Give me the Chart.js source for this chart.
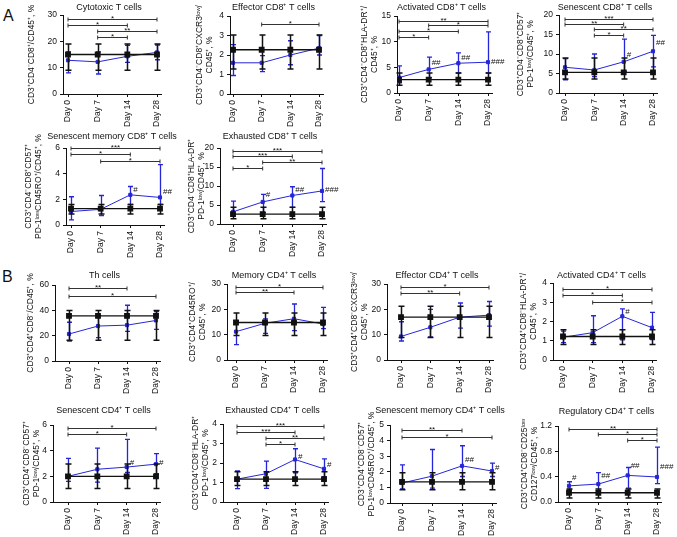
<!DOCTYPE html>
<html>
<head>
<meta charset="utf-8">
<script src="https://cdn.jsdelivr.net/npm/chart.js@4.4.1/dist/chart.umd.min.js"></script>
<style>
  body { margin: 0; background: #fff; width: 677px; height: 537px; position: relative; overflow: hidden; font-family: 'Liberation Sans', Arial, sans-serif; }
  canvas { position: absolute; }
  .letter { position: absolute; font-size: 16px; color: #111; }
</style>
</head>
<body>
<div class="letter" style="left:3px;top:7px">A</div>
<div class="letter" style="left:2px;top:268px">B</div>
<script>
const days = ["Day 0", "Day 7", "Day 14", "Day 28"];

const panelTitles = [
  "Cytotoxic T cells", "Effector CD8⁺ T cells", "Activated CD8⁺ T cells", "Senescent CD8⁺ T cells",
  "Senescent memory CD8⁺ T cells", "Exhausted CD8⁺ T cells",
  "Th cells", "Memory CD4⁺ T cells", "Effector CD4⁺ T cells", "Activated CD4⁺ T cells",
  "Senescent CD4⁺ T cells", "Exhausted CD4⁺ T cells", "Senescent memory CD4⁺ T cells", "Regulatory CD4⁺ T cells"
];

const yTitles = [
  ["CD3⁺CD4⁻CD8⁺/CD45⁺, %"],
  ["CD3⁺CD4⁻CD8⁺CXCR3ˡᵒʷ/", "CD45⁺, %"],
  ["CD3⁺CD4⁻CD8⁺HLA-DR⁺/", "CD45⁺, %"],
  ["CD3⁺CD4⁻CD8⁺CD57⁺", "PD-1ˡᵒʷ/CD45⁺, %"],
  ["CD3⁺CD4⁻CD8⁺CD57⁺", "PD-1ˡᵒʷCD45RO⁺/CD45⁺, %"],
  ["CD3⁺CD4⁻CD8⁺HLA-DR⁺", "PD-1ˡᵒʷ/CD45⁺, %"],
  ["CD3⁺CD4⁺CD8⁻/CD45⁺, %"],
  ["CD3⁺CD4⁺CD45RO⁺/", "CD45⁺, %"],
  ["CD3⁺CD4⁺CD8⁻CXCR3ˡᵒʷ/", "CD45⁺, %"],
  ["CD3⁺CD4⁺CD8⁻HLA-DR⁺/", "CD45⁺, %"],
  ["CD3⁺CD4⁺CD8⁻CD57⁺", "PD-1ˡᵒʷ/CD45⁺, %"],
  ["CD3⁺CD4⁺CD8⁻HLA-DR⁺", "PD-1ˡᵒʷ/CD45⁺, %"],
  ["CD3⁺CD4⁺CD8⁻CD57⁺", "PD-1ˡᵒʷCD45RO⁺/CD45⁺, %"],
  ["CD3⁺CD4⁺CD8⁻CD25ˡᵒʷ", "CD127ˡᵒʷ/CD45⁺, %"]
];

const yMax = [30, 4, 15, 20, 6, 20, 60, 30, 30, 4, 6, 4, 5, 1.2];
const yStep = [10, 1, 5, 5, 2, 5, 20, 10, 10, 1, 2, 1, 1, 0.4];
const yDecimals = [0, 0, 0, 0, 0, 0, 0, 0, 0, 0, 0, 0, 0, 1];

// blue series (patients)
const patientMean = [
  [12.8, 12.2, 14.3, 15.8], [1.6, 1.6, 2.0, 2.35], [3.0, 4.6, 5.8, 6.0], [6.6, 5.9, 8.0, 10.7],
  [1.05, 1.22, 2.35, 2.15], [3.2, 5.8, 7.5, 8.7],
  [21.3, 27.6, 28.3, 32], [11.2, 14.5, 16.3, 14.2], [9.3, 12.9, 16.9, 17.7], [1.18, 1.42, 2.27, 1.68],
  [2.0, 2.55, 2.72, 2.95], [1.17, 1.45, 2.18, 1.7], [1.28, 1.72, 2.38, 2.05], [0.255, 0.283, 0.42, 0.395]
];
const patientLow = [
  [8, 7.6, 12, 13], [0.95, 1.15, 1.5, 2.0], [2.0, 3.0, 3.9, 3.9], [3.4, 4.2, 5.6, 6.7],
  [0.4, 0.73, 1.6, 1.6], [2.0, 3.0, 4.4, 5.9],
  [15.8, 18.5, 23.4, 25], [6.1, 10.5, 11.6, 12.4], [7.5, 9.1, 12.6, 13.4], [0.9, 0.9, 1.05, 1.06],
  [1.6, 1.55, 2.3, 2.2], [0.69, 0.7, 1.5, 1.3], [0.9, 0.95, 1.7, 1.7], [0.2, 0.15, 0.22, 0.29]
];
const patientHigh = [
  [16, 16, 18.5, 18.6], [2.53, 1.97, 2.73, 3.0], [5.3, 7.0, 7.8, 11.9], [8.8, 10.0, 13.8, 14.8],
  [2.2, 2.3, 3.0, 4.7], [6.0, 7.8, 9.8, 14.6],
  [30.6, 36, 44, 39], [15.5, 16.2, 22.1, 20.8], [15.1, 20, 22.5, 23.1], [1.5, 2.3, 2.66, 2.47],
  [3.4, 4.2, 4.88, 3.77], [1.6, 2.1, 2.73, 2.21], [2.44, 3.43, 3.67, 2.56], [0.32, 0.465, 0.545, 0.865]
];

// black series (controls)
const controlMean = [
  [15, 15, 15, 15], [2.27, 2.27, 2.27, 2.27], [2.6, 2.6, 2.6, 2.6], [5.3, 5.3, 5.3, 5.3],
  [1.28, 1.28, 1.28, 1.28], [2.6, 2.6, 2.6, 2.6],
  [35.6, 35.6, 35.6, 35.6], [14.8, 14.8, 14.8, 14.8], [16.9, 16.9, 16.9, 16.9], [1.22, 1.22, 1.22, 1.22],
  [2.0, 2.0, 2.0, 2.0], [1.17, 1.17, 1.17, 1.17], [1.35, 1.35, 1.35, 1.35], [0.146, 0.146, 0.146, 0.146]
];
const controlLow = [
  [9, 9, 9, 9], [1.28, 1.28, 1.28, 1.28], [1.5, 1.5, 1.5, 1.5], [3.6, 3.6, 3.6, 3.6],
  [0.85, 0.85, 0.85, 0.85], [1.4, 1.4, 1.4, 1.4],
  [16.3, 16.3, 16.3, 16.3], [9.7, 9.7, 9.7, 9.7], [8.9, 8.9, 8.9, 8.9], [0.8, 0.8, 0.8, 0.8],
  [1.05, 1.05, 1.05, 1.05], [0.85, 0.85, 0.85, 0.85], [0.85, 0.85, 0.85, 0.85], [0.063, 0.063, 0.063, 0.063]
];
const controlHigh = [
  [19, 19, 19, 19], [3.03, 3.03, 3.03, 3.03], [3.9, 3.9, 3.9, 3.9], [9.0, 9.0, 9.0, 9.0],
  [1.6, 1.6, 1.6, 1.6], [4.4, 4.4, 4.4, 4.4],
  [39.8, 39.8, 39.8, 39.8], [18.6, 18.6, 18.6, 18.6], [21.2, 21.2, 21.2, 21.2], [1.57, 1.57, 1.57, 1.57],
  [2.97, 2.97, 2.97, 2.97], [1.55, 1.55, 1.55, 1.55], [1.94, 1.94, 1.94, 1.94], [0.205, 0.205, 0.205, 0.205]
];

// [from day index, to day index, level, stars]
const sigBrackets = [
  [[0, 3, 28.3, "*"], [0, 2, 26.3, "*"], [1, 3, 23.9, "**"], [1, 2, 21.6, "*"]],
  [[1, 3, 3.57, "*"]],
  [[0, 3, 14.0, "**"], [1, 3, 13.2, "*"], [0, 2, 12.0, "*"], [0, 1, 10.9, "*"]],
  [[0, 3, 19.1, "***"], [0, 2, 17.7, "**"], [1, 3, 16.3, "**"], [1, 2, 14.8, "*"]],
  [[0, 3, 6.0, "***"], [0, 2, 5.5, "*"], [1, 3, 5.0, "*"]],
  [[0, 3, 19.3, "***"], [0, 2, 17.9, "***"], [1, 3, 16.4, "**"], [0, 1, 14.8, "*"]],
  [[0, 2, 57.4, "**"], [0, 3, 51.6, "*"]],
  [[0, 3, 28.9, "*"], [0, 2, 26.7, "**"]],
  [[0, 3, 28.7, "*"], [0, 2, 26.4, "**"]],
  [[0, 3, 3.67, "*"], [0, 2, 3.36, "*"], [1, 3, 3.0, "*"]],
  [[0, 3, 5.8, "*"], [0, 2, 5.27, "*"]],
  [[0, 3, 3.9, "***"], [0, 2, 3.6, "***"], [1, 3, 3.3, "**"], [1, 2, 2.97, "*"]],
  [[0, 2, 4.66, "**"], [0, 3, 4.23, "*"]],
  [[0, 3, 1.15, "**"], [1, 3, 1.07, "*"], [2, 3, 0.98, "*"]]
];

// [day index, level, label]
const hashMarks = [
  [], [], [[1, 5.9, "##"], [2, 6.9, "##"], [3, 6.0, "###"]], [[2, 9.9, "#"], [3, 12.8, "##"]],
  [[2, 2.73, "#"], [3, 2.55, "##"]], [[1, 7.8, "#"], [2, 8.9, "##"], [3, 8.9, "###"]],
  [], [], [], [[2, 2.49, "#"]],
  [[2, 3.08, "#"], [3, 3.08, "#"]], [[2, 2.33, "#"], [3, 1.93, "#"]], [[2, 2.77, "##"], [3, 2.28, "#"]],
  [[0, 0.376, "#"], [1, 0.417, "##"], [2, 0.569, "##"], [3, 0.553, "###"]]
];

// page layout in px: axis x, Day 0 x, Day 28 x, plot top, plot bottom, y-title distance, header gap
const panelBox = [
  [63, 68, 157, 15, 94, 31, 7], [230, 233, 319, 16, 94, 30, 8], [397, 399, 488, 16, 93, 32, 8], [559, 565, 653, 15, 93, 38, 7],
  [66, 71, 160, 148, 225, 37, 11], [220, 233, 322, 148, 224, 28, 11],
  [55, 69, 156, 285, 361, 24, 9], [227, 236, 323, 284, 360, 34, 8], [387, 401, 489, 284, 360, 32, 8], [553, 563, 652, 283, 360, 29, 7],
  [53, 68, 156, 425, 502, 26, 14], [223, 237, 324, 424, 502, 27, 13], [390, 402, 492, 425, 503, 28, 14], [558, 569, 657, 426, 502, 33, 14]
];

const FONT = "'Liberation Sans', Arial, sans-serif";
const BLUE = "#2626d9";
const BLACK = "#111";
const YW = 75, XH = 45, PT = 24, PR = 24;

// error bars drawn with each dataset so the black one sits on top
const errorBars = {
  id: "errorBars",
  afterDatasetDraw(chart, args) {
    const ds = chart.data.datasets[args.index];
    const xs = chart.scales.x, ys = chart.scales.y, ctx = chart.ctx;
    ctx.save();
    ctx.strokeStyle = ds.borderColor;
    ctx.lineWidth = ds.errWidth;
    ds.data.forEach((p, k) => {
      const px = Math.round(xs.getPixelForValue(p.x)) + 0.5;
      const lo = ys.getPixelForValue(ds.errLow[k]);
      const hi = ys.getPixelForValue(ds.errHigh[k]);
      ctx.beginPath();
      ctx.moveTo(px, lo); ctx.lineTo(px, hi);
      ctx.moveTo(px - ds.capW, lo); ctx.lineTo(px + ds.capW, lo);
      ctx.moveTo(px - ds.capW, hi); ctx.lineTo(px + ds.capW, hi);
      ctx.stroke();
    });
    ctx.restore();
  }
};

function panelText(i) {
  return {
    id: "panelText" + i,
    afterDraw(chart) {
      const { ctx, chartArea } = chart;
      const xs = chart.scales.x, ys = chart.scales.y;
      ctx.save();
      ctx.fillStyle = BLACK;
      // header
      ctx.font = "9px " + FONT;
      ctx.textAlign = "center";
      ctx.textBaseline = "middle";
      ctx.fillText(panelTitles[i], (chartArea.left + chartArea.right) / 2 - 3, chartArea.top - panelBox[i][6]);
      // significance brackets
      ctx.strokeStyle = "#333";
      ctx.lineWidth = 1;
      ctx.font = "8px " + FONT;
      ctx.textBaseline = "alphabetic";
      sigBrackets[i].forEach(([a, b, lvl, lab]) => {
        const x1 = xs.getPixelForValue(a), x2 = xs.getPixelForValue(b);
        const y = Math.round(ys.getPixelForValue(lvl)) + 0.5;
        ctx.beginPath();
        ctx.moveTo(x1, y); ctx.lineTo(x2, y);
        ctx.moveTo(x1, y - 2); ctx.lineTo(x1, y + 2);
        ctx.moveTo(x2, y - 2); ctx.lineTo(x2, y + 2);
        ctx.stroke();
        ctx.fillText(lab, (x1 + x2) / 2, y + 1.5);
      });
      // # marks
      ctx.textAlign = "left";
      ctx.textBaseline = "middle";
      hashMarks[i].forEach(([d, lvl, lab]) => {
        ctx.fillText(lab, xs.getPixelForValue(d) + 3, ys.getPixelForValue(lvl));
      });
      ctx.restore();
    }
  };
}

const toPoints = arr => arr.map((v, k) => ({ x: k, y: v }));

panelTitles.forEach((title, i) => {
  const [ax, d0, d28, top, bottom, tDist] = panelBox[i];
  const right = d28 + 4;
  const step = (d28 - d0) / 3;
  const canvas = document.createElement("canvas");
  canvas.width = right - ax + YW + PR;
  canvas.height = PT + bottom - top + XH;
  canvas.style.left = (ax - YW) + "px";
  canvas.style.top = (top - PT) + "px";
  document.body.appendChild(canvas);

  const titleFont = { family: FONT, size: 8.5, lineHeight: 1.1 };
  new Chart(canvas, {
    type: "line",
    data: {
      datasets: [
        {
          label: "Control",
          data: toPoints(controlMean[i]),
          errLow: controlLow[i], errHigh: controlHigh[i], errWidth: 1.5, capW: 3,
          borderColor: BLACK, backgroundColor: BLACK, borderWidth: 1.3,
          pointStyle: "rect", pointRadius: 3.2, tension: 0
        },
        {
          label: "Patients",
          data: toPoints(patientMean[i]),
          errLow: patientLow[i], errHigh: patientHigh[i], errWidth: 1.3, capW: 2.5,
          borderColor: BLUE, backgroundColor: BLUE, borderWidth: 1,
          pointStyle: "rect", pointRadius: 2.2, tension: 0
        }
      ]
    },
    options: {
      responsive: false,
      animation: false,
      layout: { padding: { top: PT, right: PR, left: 0, bottom: 0 } },
      plugins: { legend: { display: false }, tooltip: { enabled: false } },
      scales: {
        x: {
          type: "linear",
          min: -(d0 - ax) / step,
          max: 3 + 4 / step,
          afterBuildTicks: s => { s.ticks = days.map((d, k) => ({ value: k })); },
          afterFit: s => { s.height = XH; },
          ticks: {
            callback: v => days[v],
            minRotation: 90, maxRotation: 90, autoSkip: false,
            font: { family: FONT, size: 8.5 }, color: BLACK, padding: 3
          },
          grid: { drawOnChartArea: false, tickLength: 3, color: BLACK },
          border: { color: BLACK, width: 1 }
        },
        y: {
          min: 0,
          max: yMax[i],
          afterFit: s => { s.width = YW; },
          ticks: {
            stepSize: yStep[i],
            callback: v => v.toFixed(yDecimals[i]),
            font: { family: FONT, size: 8.5 }, color: BLACK, padding: 3
          },
          grid: { drawOnChartArea: false, tickLength: 3, color: BLACK },
          border: { color: BLACK, width: 1 },
          title: {
            display: true,
            text: yTitles[i],
            font: titleFont,
            color: BLACK,
            padding: { top: YW - tDist - 8.5 * 1.1 / 2, bottom: 0 }
          }
        }
      }
    },
    plugins: [errorBars, panelText(i)]
  });
});
</script>
</body>
</html>
